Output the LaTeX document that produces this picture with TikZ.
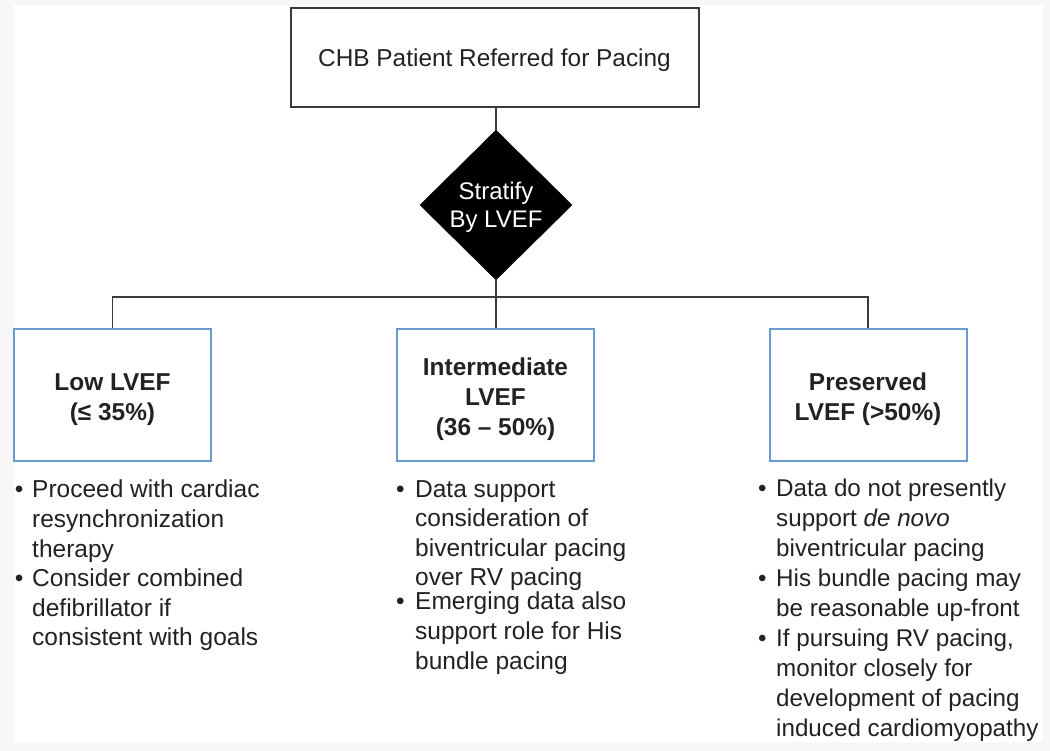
\documentclass[tikz,border=0pt]{standalone}
\usepackage{fontspec}
\setmainfont{Liberation Sans}
\usetikzlibrary{shapes.geometric}
\definecolor{txt}{HTML}{222222}
\definecolor{ln}{HTML}{3A3A3A}
\definecolor{bluebox}{HTML}{6A9BD0}
\definecolor{margin}{HTML}{F7F7F7}
\newcommand\bul[1]{\llap{\textbullet\hspace{#1}}}
\newcommand\up[1]{\rule{0pt}{#1}}
\tikzset{
  conn/.style={draw=ln, line width=1.9pt},
  topbox/.style={draw=ln, line width=2pt, fill=white, minimum width=408pt, minimum height=99pt, inner sep=0pt,
     text=txt, font=\fontsize{24.4}{29}\selectfont},
  dec/.style={diamond, fill=black, draw=black, aspect=1.01, minimum width=152pt, minimum height=150pt, inner sep=0pt,
     text=white, align=center, font=\fontsize{24}{28}\selectfont},
  catbox/.style={draw=bluebox, line width=2pt, fill=white, minimum width=197pt, minimum height=132pt, inner sep=0pt,
     text=txt, align=center, font=\bfseries\fontsize{24.4}{30}\selectfont},
  bullets/.style={anchor=north west, inner sep=0pt, align=left, text=txt, font=\fontsize{24.5}{29.6}\selectfont},
}
\begin{document}
\begin{tikzpicture}[x=1pt,y=-1pt]
\fill[margin] (0,0) rectangle (1050,751);
\fill[white] (14,5) rectangle (1043,742);
\useasboundingbox (0,0) rectangle (1050,751);

\node[topbox] (top) at (494.5,57.5) {\up{24pt}CHB Patient Referred for Pacing};
\node[dec] (dia) at (496,205) {\up{21.5pt}Stratify\\By LVEF};
\coordinate (j) at (496,297);

\node[catbox] (low) at (112.5,395) {\up{26pt}Low LVEF\\(≤ 35\%)};
\node[catbox] (mid) at (495.5,395) {\up{26.5pt}Intermediate\\LVEF\\(36 – 50\%)};
\node[catbox] (pres) at (868,395) {\up{26pt}Preserved\\LVEF (>50\%)};

\draw[conn] (dia.north |- top.south) -- (dia.north);
\draw[conn] (dia.south) -- (j);
\draw[conn] (low.north) |- (j) -| (pres.north);
\draw[conn] (j) -- (j |- mid.north);

\node[bullets] (lowtxt) at (32,480) {\bul{8.7pt}Proceed with cardiac\\
resynchronization\\
therapy\\
\bul{8.7pt}Consider combined\\
defibrillator if\\
consistent with goals};

\node[bullets] (midtxt) at (415,480) {\bul{10.5pt}Data support\\
consideration of\\
biventricular pacing\\
over RV pacing\\[-5.5pt]
\bul{10.5pt}Emerging data also\\
support role for His\\
bundle pacing};

\node[bullets, font=\fontsize{24.2}{30}\selectfont] (prestxt) at (776,479) {\bul{9.7pt}Data do not presently\\
support \textit{de novo}\\
biventricular pacing\\
\bul{9.7pt}His bundle pacing may\\
be reasonable up-front\\
\bul{9.7pt}If pursuing RV pacing,\\
monitor closely for\\
development of pacing\\
induced cardiomyopathy};
\end{tikzpicture}
\end{document}
